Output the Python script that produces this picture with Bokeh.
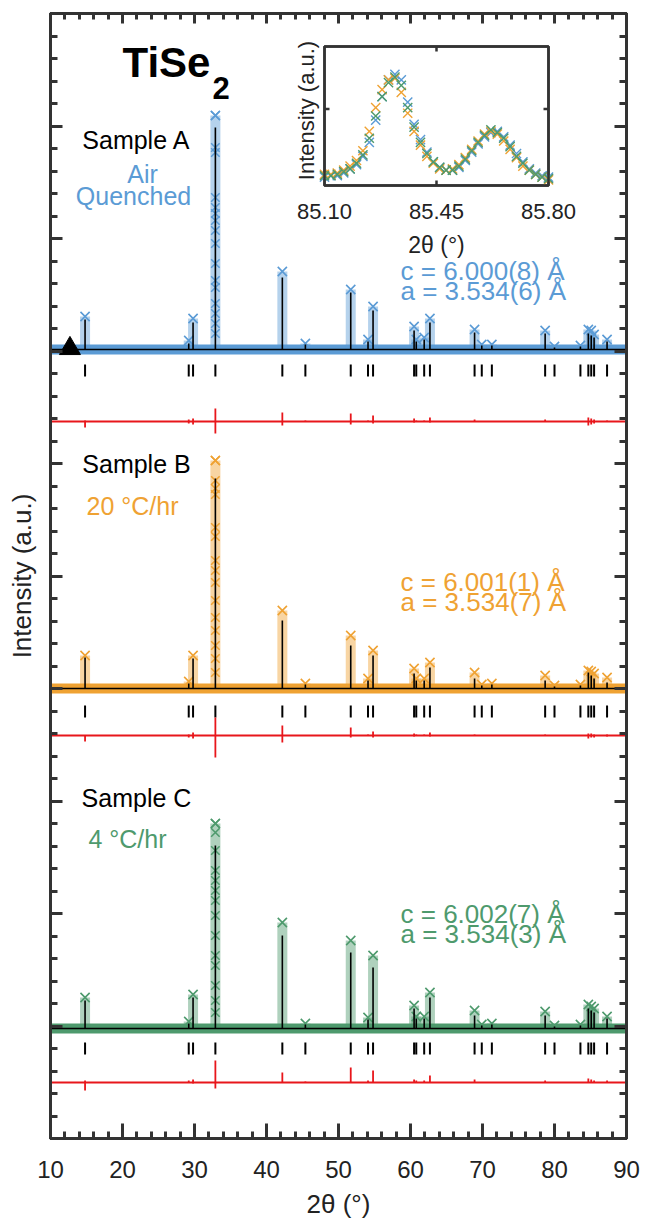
import numpy as np
from bokeh.plotting import figure
from bokeh.models import Range1d, LinearAxis, SingleIntervalTicker
from bokeh.core.properties import value
from bokeh.embed import file_html
from bokeh.resources import INLINE

# ---------------- data ----------------
two_theta_limits = [10, 90]
reflections = [14.8, 29.2, 29.8, 32.9, 42.2, 45.4, 51.7, 54.1, 54.8, 60.5, 60.8, 61.9,
               62.7, 68.9, 69.9, 71.3, 78.7, 80.0, 83.6, 84.7, 85.1, 85.5, 87.3]

# intensities (a.u.) above each pattern's own baseline, at the reflections above
calc_A = [30, 6, 27, 222, 72, 5, 57, 8, 39, 19, 8, 10, 27, 17, 4, 4, 16, 2, 3, 16, 14, 12, 8]
obs_A = [33, 9, 31, 234, 78, 6, 60, 10, 43, 23, 10, 12, 31, 20, 5, 5, 19, 3, 4, 20, 19, 15, 10]
calc_B = [31, 5, 30, 210, 68, 4, 43, 8, 33, 15, 8, 8, 21, 10, 3, 4, 8, 2, 3, 16, 13, 10, 6]
obs_B = [33, 7, 33, 228, 78, 5, 53, 10, 38, 20, 10, 10, 26, 16, 4, 5, 13, 3, 4, 18, 17, 15, 11]
calc_C = [28, 5, 31, 183, 93, 4, 76, 9, 61, 20, 10, 10, 31, 13, 3, 4, 13, 2, 3, 20, 18, 16, 10]
obs_C = [31, 7, 34, 205, 106, 5, 88, 11, 73, 23, 12, 12, 36, 18, 4, 5, 17, 3, 4, 24, 22, 20, 12]

# observed points on the strongest (101) reflection
strong_peak = 32.9
strong_obs_A = [234, 202, 197, 152, 142, 136, 129, 119, 106, 86, 69, 62, 46, 36, 26, 16]
strong_obs_B = [228, 208, 200, 194, 161, 152, 128, 118, 106, 88, 71, 58, 43, 30, 16]
strong_obs_C = [205, 196, 178, 158, 148, 138, 128, 113, 93, 73, 63, 43, 28, 16]

# difference curves (obs - calc): max / min excursion at each reflection
diff_hi_A = [1, 2, 3, 13, 9, 1, 8, 1, 6, 3, 1, 1, 4, 2, 0, 0, 2, 0, 0, 4, 3, 2, 1]
diff_lo_A = [-6, -2, -3, -12, -4, 0, -3, 0, -2, -1, 0, 0, -1, 0, 0, 0, 0, 0, 0, -4, -3, -2, 0]
diff_hi_B = [0, 1, 3, 18, 10, 0, 8, 1, 4, 2, 1, 1, 3, 1, 0, 0, 1, 0, 0, 2, 2, 1, 1]
diff_lo_B = [-6, -2, -3, -22, -7, 0, -2, 0, -2, -1, 0, 0, -1, 0, 0, 0, 0, 0, 0, -3, -2, -2, -1]
diff_hi_C = [2, 2, 3, 22, 10, 1, 15, 2, 12, 3, 2, 2, 7, 3, 0, 0, 2, 0, 0, 4, 3, 2, 2]
diff_lo_C = [-8, 0, -1, -6, 0, 0, 0, 0, 0, 0, 0, 0, 0, 0, 0, 0, 0, 0, 0, 0, 0, 0, 0]

# vertical offsets of the stacked patterns (a.u.)
offset_obs = [789, 450, 110]
offset_ticks = [768, 427, 90]
offset_diff = [717, 403, 56]
marker_2theta = [12.7]

# inset: zoom on 85.10-85.80 degrees
inset_2theta = [85.10, 85.12, 85.14, 85.16, 85.18, 85.20, 85.22, 85.24, 85.26, 85.28, 85.30, 85.32,
                85.34, 85.36, 85.38, 85.40, 85.42, 85.44, 85.46, 85.48, 85.50, 85.52, 85.54, 85.56,
                85.58, 85.60, 85.62, 85.64, 85.66, 85.68, 85.70, 85.72, 85.74, 85.76, 85.78, 85.80]
inset_A = [6, 7, 7, 9, 12, 15, 21, 31, 47, 64, 76, 80, 76, 60, 44, 33, 24, 17, 13, 11, 11, 13,
           18, 24, 30, 35, 38, 39, 35, 29, 23, 17, 12, 9, 7, 6]
inset_B = [8, 8, 9, 11, 14, 18, 25, 39, 56, 69, 76, 77, 67, 52, 39, 29, 21, 16, 12, 11, 12, 15,
           20, 26, 32, 37, 39, 37, 32, 26, 20, 14, 11, 8, 6, 4]
inset_C = [7, 7, 8, 10, 12, 16, 22, 34, 50, 64, 74, 78, 72, 56, 42, 31, 23, 17, 13, 11, 11, 14,
           19, 25, 31, 36, 40, 38, 34, 28, 21, 16, 11, 8, 6, 5]
inset_xlim = [85.10, 85.80]
inset_xticks = [85.10, 85.45, 85.80]
inset_xtick_labels = ["85.10", "85.45", "85.80"]
inset_ylim = [0, 100]
inset_ytick = [55]

samples = ["Sample A", "Sample B", "Sample C"]
conditions = [["Air", "Quenched"], ["20 °C/hr"], ["4 °C/hr"]]
c_params = ["c = 6.000(8) Å", "c = 6.001(1) Å", "c = 6.002(7) Å"]
a_params = ["a = 3.534(6) Å", "a = 3.534(7) Å", "a = 3.534(3) Å"]

# ---------------- style ----------------
BLUE, ORANGE, GREEN = "#5B9BD5", "#EFA233", "#4E9A6D"
RED, FRAME, INK = "#E8161B", "#333333", "#222222"
FONT = value("Liberation Sans")

# page-pixel helpers for annotation placement (frame: x 50..626, y 13..1138)
def X(px):
    return 10 + (px - 50) / 7.2

def Y(py):
    return 1138 - py

p = figure(width=652, height=1222, x_range=Range1d(*two_theta_limits), y_range=Range1d(0, 1125),
           output_backend="svg", toolbar_location=None, x_axis_location=None, y_axis_location=None,
           min_border_left=50, min_border_right=26, min_border_top=13, min_border_bottom=84)
p.outline_line_color = FRAME
p.outline_line_width = 3
p.background_fill_color = "white"
p.border_fill_color = "white"
p.xgrid.visible = False
p.ygrid.visible = False


def style_axis(ax, major_in, minor_in, labels):
    ax.axis_line_color = FRAME
    ax.axis_line_width = 3
    ax.major_tick_line_color = FRAME
    ax.major_tick_line_width = 3
    ax.minor_tick_line_color = FRAME
    ax.minor_tick_line_width = 3
    ax.major_tick_in = major_in
    ax.major_tick_out = 0
    ax.minor_tick_in = minor_in
    ax.minor_tick_out = 0
    if not labels:
        ax.major_label_text_font_size = "0px"
        ax.major_label_text_color = None
        ax.major_label_standoff = 0


xb = LinearAxis(ticker=SingleIntervalTicker(interval=10, num_minor_ticks=5), axis_label="2θ (°)")
style_axis(xb, 15, 7, True)
xb.major_label_text_font = "Liberation Sans"
xb.major_label_text_font_size = "24px"
xb.major_label_text_color = INK
xb.major_label_standoff = 22
xb.axis_label_text_font = "Liberation Sans"
xb.axis_label_text_font_size = "26px"
xb.axis_label_text_font_style = "normal"
xb.axis_label_text_color = INK
xb.axis_label_standoff = 8
p.add_layout(xb, "below")

xt = LinearAxis(ticker=SingleIntervalTicker(interval=10, num_minor_ticks=5))
style_axis(xt, 10, 6, False)
p.add_layout(xt, "above")

yl = LinearAxis(ticker=SingleIntervalTicker(interval=112.5, num_minor_ticks=5), axis_label="Intensity (a.u.)")
style_axis(yl, 12, 7, False)
yl.axis_label_text_font = "Liberation Sans"
yl.axis_label_text_font_size = "26px"
yl.axis_label_text_font_style = "normal"
yl.axis_label_text_color = INK
yl.axis_label_standoff = 14
p.add_layout(yl, "left")

yr = LinearAxis(ticker=SingleIntervalTicker(interval=112.5, num_minor_ticks=5))
style_axis(yr, 12, 7, False)
p.add_layout(yr, "right")

# ---------------- patterns ----------------
patterns = [
    (BLUE, calc_A, obs_A, strong_obs_A, diff_hi_A, diff_lo_A),
    (ORANGE, calc_B, obs_B, strong_obs_B, diff_hi_B, diff_lo_B),
    (GREEN, calc_C, obs_C, strong_obs_C, diff_hi_C, diff_lo_C),
]
refl = np.array(reflections)
for i, (col, calc, obs, strong, dhi, dlo) in enumerate(patterns):
    b = offset_obs[i]
    calc = np.array(calc)
    obs = np.array(obs)
    # observed: dense baseline band, stacked columns of crosses at peaks
    p.line(two_theta_limits, [b, b], line_color=col, line_width=10)
    p.segment(x0=refl, y0=np.full(len(refl), b), x1=refl, y1=b + obs,
              line_color=col, line_width=10, line_alpha=0.45)
    p.scatter(refl, b + obs, marker="x", size=13, line_color=col, line_width=1.6)
    p.scatter(np.full(len(strong), strong_peak), b + np.array(strong), marker="x", size=12,
              line_color=col, line_width=1.6)
    # calculated
    p.line(two_theta_limits, [b, b], line_color="black", line_width=1.6)
    p.segment(x0=refl, y0=np.full(len(refl), b), x1=refl, y1=b + calc,
              line_color="black", line_width=1.6)
    # reflection ticks
    t = offset_ticks[i]
    p.segment(x0=refl, y0=np.full(len(refl), t - 6), x1=refl, y1=np.full(len(refl), t + 6),
              line_color="black", line_width=2)
    # difference
    d = offset_diff[i]
    p.line(two_theta_limits, [d, d], line_color=RED, line_width=1.8)
    p.segment(x0=refl, y0=d + np.array(dlo), x1=refl, y1=d + np.array(dhi),
              line_color=RED, line_width=1.8)

p.scatter(marker_2theta, [offset_obs[0] + 1], marker="triangle", size=21,
          fill_color="black", line_color="black")

# ---------------- labels ----------------
def txt(xs, ys, texts, size, color, align="center", bold=False, **extra):
    p.text(x=xs, y=ys, text=texts, text_font=FONT, text_font_size=size,
           text_font_style="bold" if bold else "normal", text_color=color,
           text_align=align, text_baseline="middle", **extra)

txt([X(122)], [Y(62)], ["TiSe"], "42px", "black", align="left", bold=True)
txt([X(212)], [Y(87)], ["2"], "31px", "black", align="left", bold=True)

txt([X(136)] * 3, [Y(139), Y(463), Y(797)], samples, "25px", "black")
txt([X(142), X(133)], [Y(173), Y(195)], conditions[0], "25px", BLUE)
txt([X(132)], [Y(505)], conditions[1], "25px", ORANGE)
txt([X(127)], [Y(838)], conditions[2], "25px", GREEN)

c_mid = [270, 581, 913]
for i, col in enumerate([BLUE, ORANGE, GREEN]):
    txt([X(400), X(400)], [Y(c_mid[i]), Y(c_mid[i] + 20)], [c_params[i], a_params[i]], "26px", col,
        align="left")

# ---------------- inset (drawn on its own ranges) ----------------
IL, IR, IT, IB = 324, 548, 46, 185
ux = (inset_xlim[1] - inset_xlim[0]) / (IR - IL)
uy = (inset_ylim[1] - inset_ylim[0]) / (IB - IT)
p.extra_x_ranges = {"ix": Range1d(inset_xlim[0] - (IL - 50) * ux, inset_xlim[0] + (626 - IL) * ux)}
p.extra_y_ranges = {"iy": Range1d(inset_ylim[0] - (1138 - IB) * uy, inset_ylim[1] + (IT - 13) * uy)}
kw = dict(x_range_name="ix", y_range_name="iy")

p.quad(left=[inset_xlim[0]], right=[inset_xlim[1]], bottom=[inset_ylim[0]], top=[inset_ylim[1]],
       fill_color="white", line_color=FRAME, line_width=2.5, **kw)
for ys, col in [(inset_A, BLUE), (inset_B, ORANGE), (inset_C, GREEN)]:
    p.scatter(inset_2theta, ys, marker="x", size=13, line_color=col, line_width=1.4, **kw)
tick_len_y = 5 * uy
tick_len_x = 5 * ux
mid = inset_xticks[1]
p.segment(x0=[mid, mid], y0=[inset_ylim[0], inset_ylim[1]], x1=[mid, mid],
          y1=[inset_ylim[0] + tick_len_y, inset_ylim[1] - tick_len_y], line_color=FRAME, line_width=2.5, **kw)
p.segment(x0=[inset_xlim[0], inset_xlim[1]], y0=inset_ytick * 2,
          x1=[inset_xlim[0] + tick_len_x, inset_xlim[1] - tick_len_x], y1=inset_ytick * 2,
          line_color=FRAME, line_width=2.5, **kw)
p.quad(left=[inset_xlim[0]], right=[inset_xlim[1]], bottom=[inset_ylim[0]], top=[inset_ylim[1]],
       fill_color=None, line_color=FRAME, line_width=2.5, **kw)

txt(inset_xticks, [inset_ylim[0] - 26 * uy] * 3, inset_xtick_labels, "22px", INK, **kw)
txt([sum(inset_xlim) / 2], [inset_ylim[0] - 59 * uy], ["2θ (°)"], "23px", INK, **kw)
txt([inset_xlim[0] - 18 * ux], [inset_ylim[0] + 75 * uy], ["Intensity (a.u.)"], "22px", INK,
    angle=np.pi / 2, **kw)

open("out.html", "w").write(file_html(p, INLINE))
